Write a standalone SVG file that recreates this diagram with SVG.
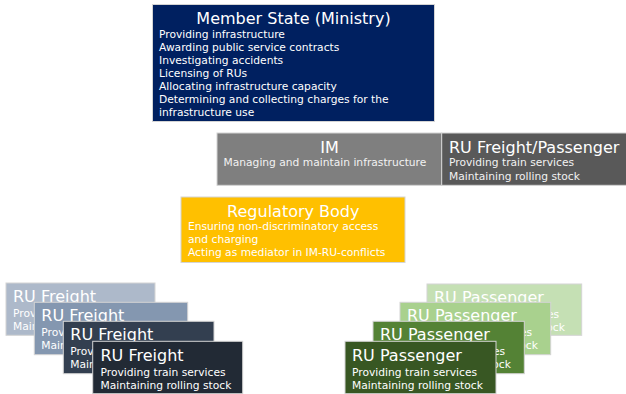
<svg xmlns="http://www.w3.org/2000/svg" width="626" height="394" viewBox="0 0 626 394">
<style>
text{font-family:"DejaVu Sans","Verdana",sans-serif;fill:#ffffff}
.t{font-size:16px}
.b{font-size:10.7px}
.c{text-anchor:middle}
.box{stroke:#d4d4d4;stroke-width:1}
</style>
<rect width="626" height="394" fill="#ffffff"/>
<g id="connectors"></g>
<g id="member-state">
<rect class="box" x="152.5" y="4.5" width="282" height="117" fill="#002060"/>
<text class="t c" x="293.5" y="24">Member State (Ministry)</text>
<text class="b" x="159" y="37.5">Providing infrastructure</text>
<text class="b" x="159" y="50.5">Awarding public service contracts</text>
<text class="b" x="159" y="63.5">Investigating accidents</text>
<text class="b" x="159" y="76.5">Licensing of RUs</text>
<text class="b" x="159" y="89.5">Allocating infrastructure capacity</text>
<text class="b" x="159" y="102.5">Determining and collecting charges for the</text>
<text class="b" x="159" y="115.5">infrastructure use</text>
</g>
<g id="im">
<rect class="box" x="217" y="133" width="224.7" height="52.3" fill="#7f7f7f"/>
<text class="t c" x="329.5" y="153">IM</text>
<text class="b" x="223.5" y="166.3" style="fill:#f2f2f2">Managing and maintain infrastructure</text>
</g>
<g id="ru-freight-passenger">
<rect class="box" x="441.7" y="133" width="190" height="52.3" fill="#595959"/>
<text class="t" x="449" y="153">RU Freight/Passenger</text>
<text class="b" x="449" y="166.3" style="fill:#f2f2f2">Providing train services</text>
<text class="b" x="449" y="179.5" style="fill:#f2f2f2">Maintaining rolling stock</text>
</g>
<g id="regulatory-body">
<rect class="box" x="181" y="197" width="224" height="65.5" fill="#ffc000"/>
<text class="t c" x="293.3" y="217">Regulatory Body</text>
<text class="b" x="188" y="230">Ensuring non-discriminatory access</text>
<text class="b" x="188" y="243">and charging</text>
<text class="b" x="188" y="256">Acting as mediator in IM-RU-conflicts</text>
</g>
<g id="ru-freight-1">
<rect class="box" x="6" y="283" width="149" height="52.3" fill="#adb9ca"/>
<text class="t" x="13" y="302">RU Freight</text>
<text class="b" x="13" y="317">Providing train services</text>
<text class="b" x="13" y="330">Maintaining rolling stock</text>
</g>
<g id="ru-freight-2">
<rect class="box" x="34.3" y="302.3" width="153.4" height="52.4" fill="#8497b0"/>
<text class="t" x="41.3" y="321.3">RU Freight</text>
<text class="b" x="41.3" y="336.3">Providing train services</text>
<text class="b" x="41.3" y="349.3">Maintaining rolling stock</text>
</g>
<g id="ru-freight-3">
<rect class="box" x="63.3" y="321.3" width="150.7" height="52.4" fill="#333f50"/>
<text class="t" x="70.3" y="340.3">RU Freight</text>
<text class="b" x="70.3" y="355.3">Providing train services</text>
<text class="b" x="70.3" y="368.3">Maintaining rolling stock</text>
</g>
<g id="ru-freight-4">
<rect class="box" x="92.7" y="341.3" width="150" height="52.4" fill="#222a35"/>
<text class="t" x="100.5" y="360.5">RU Freight</text>
<text class="b" x="100.5" y="375.5">Providing train services</text>
<text class="b" x="100.5" y="388.5">Maintaining rolling stock</text>
</g>
<g id="ru-passenger-1">
<rect class="box" x="427" y="284" width="154.7" height="51.3" fill="#c5e0b4"/>
<text class="t" x="434" y="302.5">RU Passenger</text>
<text class="b" x="434" y="317.5">Providing train services</text>
<text class="b" x="434" y="330.5">Maintaining rolling stock</text>
</g>
<g id="ru-passenger-2">
<rect class="box" x="400" y="302.3" width="150.7" height="52.4" fill="#a9d18e"/>
<text class="t" x="407" y="321.3">RU Passenger</text>
<text class="b" x="407" y="336.3">Providing train services</text>
<text class="b" x="407" y="349.3">Maintaining rolling stock</text>
</g>
<g id="ru-passenger-3">
<rect class="box" x="373" y="321.3" width="151.3" height="52.4" fill="#548235"/>
<text class="t" x="380" y="340.3">RU Passenger</text>
<text class="b" x="380" y="355.3">Providing train services</text>
<text class="b" x="380" y="368.3">Maintaining rolling stock</text>
</g>
<g id="ru-passenger-4">
<rect class="box" x="345" y="341.3" width="151" height="52.4" fill="#385723"/>
<text class="t" x="352" y="360.5">RU Passenger</text>
<text class="b" x="352" y="375.5">Providing train services</text>
<text class="b" x="352" y="388.5">Maintaining rolling stock</text>
</g>
</svg>
